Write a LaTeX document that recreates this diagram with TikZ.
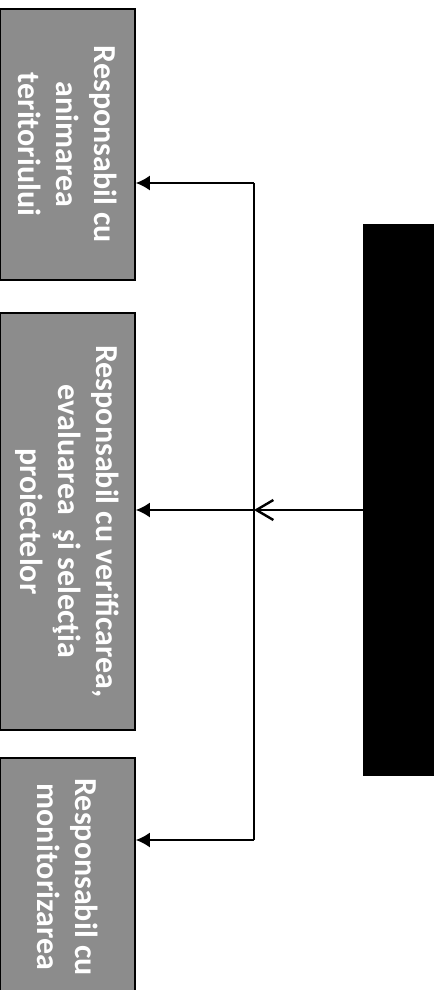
\documentclass[tikz,border=0pt]{standalone}
\usepackage{fontspec}
\setmainfont{Carlito}
\usetikzlibrary{arrows.meta,positioning}

\begin{document}
\begin{tikzpicture}[x=1pt,y=-1pt,
    rolebox/.style={draw=black,line width=1.6pt,fill=black!45,text=white,
        rotate=-90,minimum height=135pt,inner sep=0pt,align=center,
        font=\fontsize{32}{38}\selectfont\bfseries},
    headbox/.style={fill=black,draw=black,minimum width=70pt,minimum height=551pt},
    link/.style={line width=1.8pt,-{Latex[length=14pt,width=15pt]}}]
\useasboundingbox (0,0) rectangle (441,990);
% the three roles, text running downwards
\node[rolebox,minimum width=271pt] (anim) at (67.5,144.5) {Responsabil cu\\animarea\\teritoriului};
\node[rolebox,minimum width=417pt] (eval) at (67.5,521.5) {Responsabil cu verificarea,\\evaluarea\ \ şi selecţia\\proiectelor};
\node[rolebox,minimum width=238pt] (mon) at (67.5,877) {Responsabil cu\\monitorizarea};
% the blacked out head box
\node[headbox] (head) at (398,499.5) {};
% bus line
\coordinate (top) at (254,183);
\coordinate (mid) at (254,510);
\coordinate (bot) at (254,840);
\draw[line width=1.8pt] (top) -- (bot);
\draw[line width=1.8pt,-{Straight Barb[length=17pt,width=20pt,line width=2.4pt]}] (head.west |- mid) -- (mid);
\draw[link] (top) -- (top -| anim.north);
\draw[link] (mid) -- (mid -| eval.north);
\draw[link] (bot) -- (bot -| mon.north);
\end{tikzpicture}
\end{document}
